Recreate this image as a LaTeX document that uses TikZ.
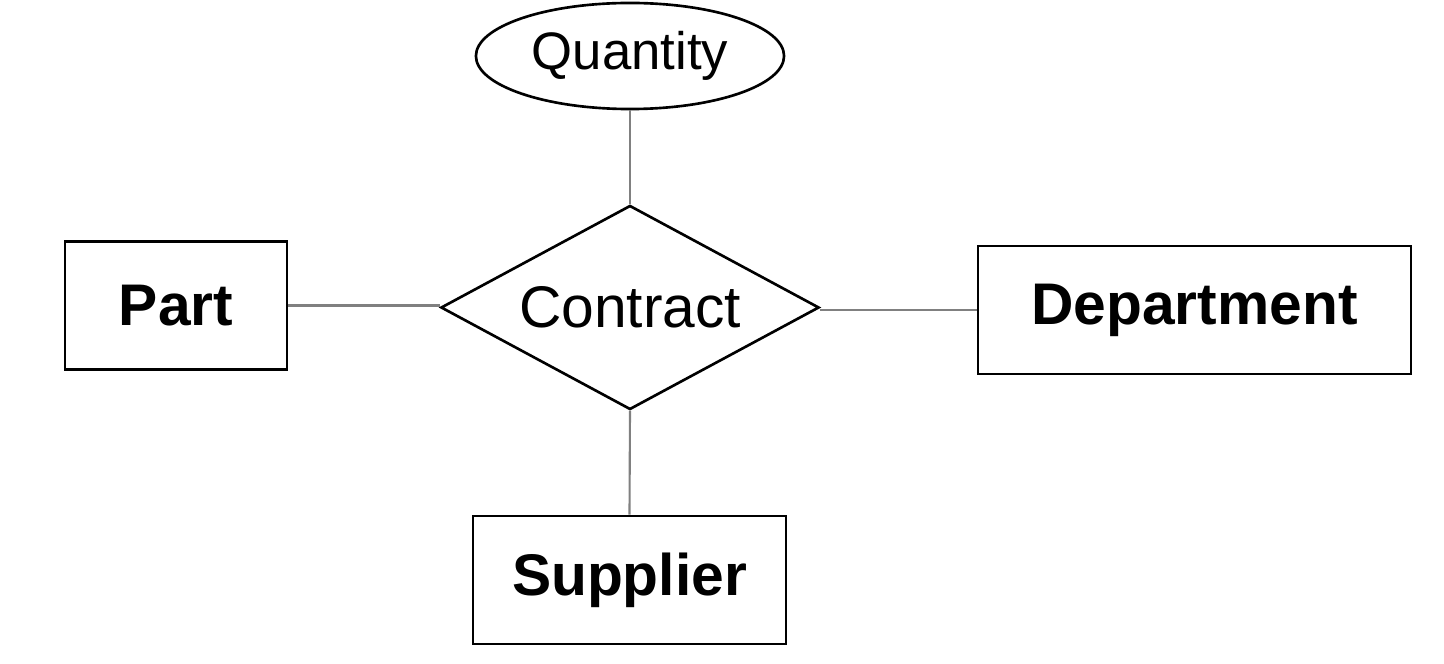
\documentclass[tikz,border=0pt]{standalone}
\usepackage{fontspec}
\setmainfont{Liberation Sans}
\usetikzlibrary{shapes.geometric}
\begin{document}
\begin{tikzpicture}[x=0.01cm, y=-0.01cm,
		entity/.style={rectangle, draw=black, line width=0.75pt, inner sep=0mm, minimum height=1.28cm, font=\fontsize{16.7}{20}\selectfont\bfseries},
		relation/.style={diamond, draw=black, line width=0.75pt, inner sep=0mm, aspect=1.85, minimum width=3.78cm, minimum height=2.04cm, font=\fontsize{16.7}{20}\selectfont},
		attribute/.style={ellipse, draw=black, line width=0.75pt, inner sep=0mm, minimum width=3.08cm, minimum height=1.06cm, font=\fontsize{15}{18}\selectfont},
		link/.style={draw=gray, line width=0.6pt}]
		\useasboundingbox (0, 0) rectangle (1444, 664);
		\node[attribute] (quantity) at (630, 56) {Quantity};
		\node[relation] (contract) at (630, 307.5) {Contract};
		\node[entity, minimum width=2.22cm] (part) at (176, 305.5) {Part};
		\node[entity, minimum width=4.33cm] (department) at (1194.5, 310) {Department};
		\node[entity, minimum width=3.13cm] (supplier) at (629.5, 580) {Supplier};
		\draw[link] (quantity.south) -- (contract.north);
		\draw[link] (part.east) -- (part.east -| contract.west);
		\draw[link] (department.west -| contract.east) -- (department.west);
		\draw[link] (contract.south) -- (supplier.north);
	\end{tikzpicture}
\end{document}
